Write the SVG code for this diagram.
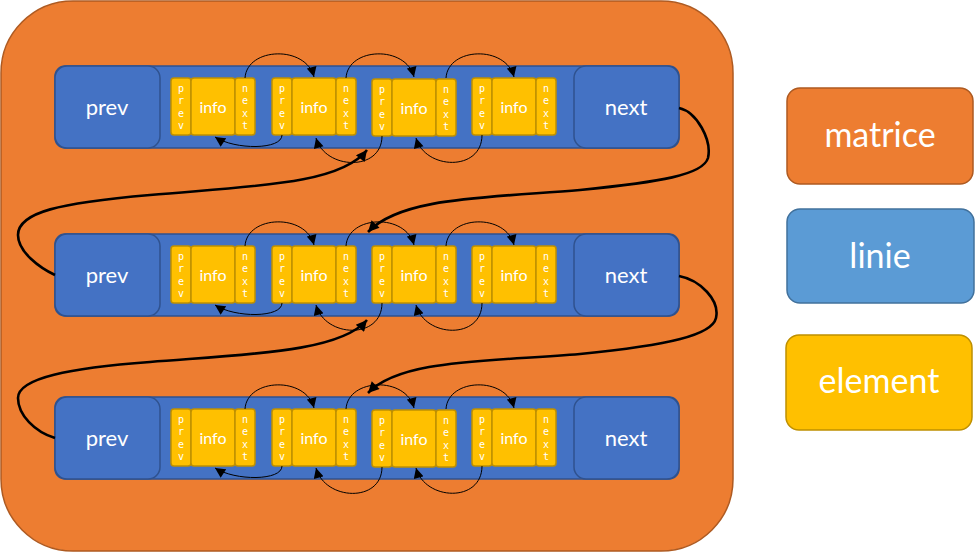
<svg xmlns="http://www.w3.org/2000/svg" width="975" height="552" viewBox="0 0 975 552">
<defs>
<style>
.mat{fill:#ED7D31;stroke:#AE5A21;stroke-width:1.5}
.row{fill:#4472C4;stroke:#2F528F;stroke-width:1.5}
.box{fill:#4472C4;stroke:#2F528F;stroke-width:1.5}
.cell{fill:#FFC000;stroke:#BF9000;stroke-width:1.5}
.lin{fill:#5B9BD5;stroke:#41719C;stroke-width:1.5}
.t{fill:#fff;font-family:Lato,"Open Sans",sans-serif;text-anchor:middle}
.big{font-size:34px}
.lbl{font-size:22px}
.inf{font-size:16px}
.v{fill:#fff;font-family:"DejaVu Sans Mono",monospace;font-size:10px;text-anchor:middle}
.arc{fill:none;stroke:#000;stroke-width:1}
.thick{fill:none;stroke:#000;stroke-width:2.6}
</style>
<marker id="ah" viewBox="0 0 10 10" refX="10" refY="5" markerWidth="11" markerHeight="10" orient="auto" markerUnits="userSpaceOnUse"><path d="M0,0 L10,5 L0,10 z" fill="#000"/></marker>
<marker id="ahb" viewBox="0 0 10 10" refX="10" refY="5" markerWidth="14" markerHeight="11" orient="auto" markerUnits="userSpaceOnUse"><path d="M0,0 L10,5 L0,10 z" fill="#000"/></marker>
<g id="elem">
<rect class="cell" x="0" y="0" width="20" height="57" rx="3"/>
<rect class="cell" x="20" y="0" width="44" height="57" rx="3"/>
<rect class="cell" x="64" y="0" width="20" height="57" rx="3"/>
</g>
</defs>

<g id="matrice">
<rect class="mat" x="1" y="1" width="732" height="550" rx="72"/>
</g>

<g id="linie1">
<rect class="row" x="55" y="66" width="624" height="82" rx="10"/>
<g id="prev1"><rect class="box" x="55" y="66" width="105" height="82" rx="12"/><text class="t lbl" x="107" y="115">prev</text></g>
<g id="next1"><rect class="box" x="574" y="66" width="105" height="82" rx="12"/><text class="t lbl" x="626" y="115">next</text></g>
</g>
<g id="linie2">
<rect class="row" x="55" y="234" width="624" height="82" rx="10"/>
<g id="prev2"><rect class="box" x="55" y="234" width="105" height="82" rx="12"/><text class="t lbl" x="107" y="283">prev</text></g>
<g id="next2"><rect class="box" x="574" y="234" width="105" height="82" rx="12"/><text class="t lbl" x="626" y="283">next</text></g>
</g>
<g id="linie3">
<rect class="row" x="55" y="397" width="624" height="82" rx="10"/>
<g id="prev3"><rect class="box" x="55" y="397" width="105" height="82" rx="12"/><text class="t lbl" x="107" y="446">prev</text></g>
<g id="next3"><rect class="box" x="574" y="397" width="105" height="82" rx="12"/><text class="t lbl" x="626" y="446">next</text></g>
</g>

<g id="e11" transform="translate(171,78)"><use href="#elem"/><text class="v" x="10" y="14">p</text><text class="v" x="10" y="26">r</text><text class="v" x="10" y="38.5">e</text><text class="v" x="10" y="51">v</text><text class="t inf" x="42" y="35">info</text><text class="v" x="74" y="14">n</text><text class="v" x="74" y="26">e</text><text class="v" x="74" y="38.5">x</text><text class="v" x="74" y="51">t</text></g>
<g id="e12" transform="translate(272,78)"><use href="#elem"/><text class="v" x="10" y="14">p</text><text class="v" x="10" y="26">r</text><text class="v" x="10" y="38.5">e</text><text class="v" x="10" y="51">v</text><text class="t inf" x="42" y="35">info</text><text class="v" x="74" y="14">n</text><text class="v" x="74" y="26">e</text><text class="v" x="74" y="38.5">x</text><text class="v" x="74" y="51">t</text></g>
<g id="e13" transform="translate(372,79)"><use href="#elem"/><text class="v" x="10" y="14">p</text><text class="v" x="10" y="26">r</text><text class="v" x="10" y="38.5">e</text><text class="v" x="10" y="51">v</text><text class="t inf" x="42" y="35">info</text><text class="v" x="74" y="14">n</text><text class="v" x="74" y="26">e</text><text class="v" x="74" y="38.5">x</text><text class="v" x="74" y="51">t</text></g>
<g id="e14" transform="translate(472,78)"><use href="#elem"/><text class="v" x="10" y="14">p</text><text class="v" x="10" y="26">r</text><text class="v" x="10" y="38.5">e</text><text class="v" x="10" y="51">v</text><text class="t inf" x="42" y="35">info</text><text class="v" x="74" y="14">n</text><text class="v" x="74" y="26">e</text><text class="v" x="74" y="38.5">x</text><text class="v" x="74" y="51">t</text></g>

<g id="e21" transform="translate(171,246)"><use href="#elem"/><text class="v" x="10" y="14">p</text><text class="v" x="10" y="26">r</text><text class="v" x="10" y="38.5">e</text><text class="v" x="10" y="51">v</text><text class="t inf" x="42" y="35">info</text><text class="v" x="74" y="14">n</text><text class="v" x="74" y="26">e</text><text class="v" x="74" y="38.5">x</text><text class="v" x="74" y="51">t</text></g>
<g id="e22" transform="translate(272,246)"><use href="#elem"/><text class="v" x="10" y="14">p</text><text class="v" x="10" y="26">r</text><text class="v" x="10" y="38.5">e</text><text class="v" x="10" y="51">v</text><text class="t inf" x="42" y="35">info</text><text class="v" x="74" y="14">n</text><text class="v" x="74" y="26">e</text><text class="v" x="74" y="38.5">x</text><text class="v" x="74" y="51">t</text></g>
<g id="e23" transform="translate(372,246)"><use href="#elem"/><text class="v" x="10" y="14">p</text><text class="v" x="10" y="26">r</text><text class="v" x="10" y="38.5">e</text><text class="v" x="10" y="51">v</text><text class="t inf" x="42" y="35">info</text><text class="v" x="74" y="14">n</text><text class="v" x="74" y="26">e</text><text class="v" x="74" y="38.5">x</text><text class="v" x="74" y="51">t</text></g>
<g id="e24" transform="translate(472,246)"><use href="#elem"/><text class="v" x="10" y="14">p</text><text class="v" x="10" y="26">r</text><text class="v" x="10" y="38.5">e</text><text class="v" x="10" y="51">v</text><text class="t inf" x="42" y="35">info</text><text class="v" x="74" y="14">n</text><text class="v" x="74" y="26">e</text><text class="v" x="74" y="38.5">x</text><text class="v" x="74" y="51">t</text></g>

<g id="e31" transform="translate(171,409)"><use href="#elem"/><text class="v" x="10" y="14">p</text><text class="v" x="10" y="26">r</text><text class="v" x="10" y="38.5">e</text><text class="v" x="10" y="51">v</text><text class="t inf" x="42" y="35">info</text><text class="v" x="74" y="14">n</text><text class="v" x="74" y="26">e</text><text class="v" x="74" y="38.5">x</text><text class="v" x="74" y="51">t</text></g>
<g id="e32" transform="translate(272,409)"><use href="#elem"/><text class="v" x="10" y="14">p</text><text class="v" x="10" y="26">r</text><text class="v" x="10" y="38.5">e</text><text class="v" x="10" y="51">v</text><text class="t inf" x="42" y="35">info</text><text class="v" x="74" y="14">n</text><text class="v" x="74" y="26">e</text><text class="v" x="74" y="38.5">x</text><text class="v" x="74" y="51">t</text></g>
<g id="e33" transform="translate(372,410)"><use href="#elem"/><text class="v" x="10" y="14">p</text><text class="v" x="10" y="26">r</text><text class="v" x="10" y="38.5">e</text><text class="v" x="10" y="51">v</text><text class="t inf" x="42" y="35">info</text><text class="v" x="74" y="14">n</text><text class="v" x="74" y="26">e</text><text class="v" x="74" y="38.5">x</text><text class="v" x="74" y="51">t</text></g>
<g id="e34" transform="translate(472,409)"><use href="#elem"/><text class="v" x="10" y="14">p</text><text class="v" x="10" y="26">r</text><text class="v" x="10" y="38.5">e</text><text class="v" x="10" y="51">v</text><text class="t inf" x="42" y="35">info</text><text class="v" x="74" y="14">n</text><text class="v" x="74" y="26">e</text><text class="v" x="74" y="38.5">x</text><text class="v" x="74" y="51">t</text></g>

<g id="connectors">
<g id="arcs1">
<path class="arc" marker-end="url(#ah)" d="M245,78 C247,47 306,45 314,77"/>
<path class="arc" marker-end="url(#ah)" d="M346,78 C348,47 406,45 414,77"/>
<path class="arc" marker-end="url(#ah)" d="M446,78 C448,47 506,45 514,77"/>
<path class="arc" marker-end="url(#ah)" d="M282,135 C282,150 235,150 215,137"/>
<path class="arc" marker-end="url(#ah)" d="M382,136 C382,172 325,170 316,138"/>
<path class="arc" marker-end="url(#ah)" d="M482,135 C482,172 425,170 416,138"/>
</g>
<g id="arcs2" transform="translate(0,168)">
<path class="arc" marker-end="url(#ah)" d="M245,78 C247,47 306,45 314,77"/>
<path class="arc" marker-end="url(#ah)" d="M346,78 C348,47 406,45 414,77"/>
<path class="arc" marker-end="url(#ah)" d="M446,78 C448,47 506,45 514,77"/>
<path class="arc" marker-end="url(#ah)" d="M282,135 C282,150 235,150 215,137"/>
<path class="arc" marker-end="url(#ah)" d="M382,135 C382,172 325,170 316,137"/>
<path class="arc" marker-end="url(#ah)" d="M482,135 C482,172 425,170 416,137"/>
</g>
<g id="arcs3" transform="translate(0,331)">
<path class="arc" marker-end="url(#ah)" d="M245,78 C247,47 306,45 314,77"/>
<path class="arc" marker-end="url(#ah)" d="M346,78 C348,47 406,45 414,77"/>
<path class="arc" marker-end="url(#ah)" d="M446,78 C448,47 506,45 514,77"/>
<path class="arc" marker-end="url(#ah)" d="M282,135 C282,150 235,150 215,137"/>
<path class="arc" marker-end="url(#ah)" d="M382,136 C382,172 325,170 316,137"/>
<path class="arc" marker-end="url(#ah)" d="M482,135 C482,172 425,170 416,137"/>
</g>
<path class="thick" marker-end="url(#ahb)" d="M679,108 C697,112 712,140 708,158 C703,175 660,182 580,190 C480,198 400,198 368,232"/>
<path class="thick" marker-end="url(#ahb)" d="M55,275 C40,268 18,252 18,235 C18,212 60,203 150,195 C250,186 340,185 367,150"/>
<path class="thick" marker-end="url(#ahb)" d="M679,276 C700,280 720,300 716,318 C712,335 670,345 580,354 C480,362 400,360 368,393"/>
<path class="thick" marker-end="url(#ahb)" d="M55,438 C35,432 18,415 18,398 C18,378 70,368 150,362 C250,354 340,352 367,320"/>
</g>

<g id="legend-matrice"><rect class="mat" x="787" y="88" width="186" height="96" rx="13"/><text class="t big" x="880" y="147">matrice</text></g>
<g id="legend-linie"><rect class="lin" x="787" y="209" width="187" height="94" rx="13"/><text class="t big" x="880" y="268">linie</text></g>
<g id="legend-element"><rect class="cell" x="786" y="335" width="186" height="95" rx="13"/><text class="t big" x="879" y="393">element</text></g>
</svg>
